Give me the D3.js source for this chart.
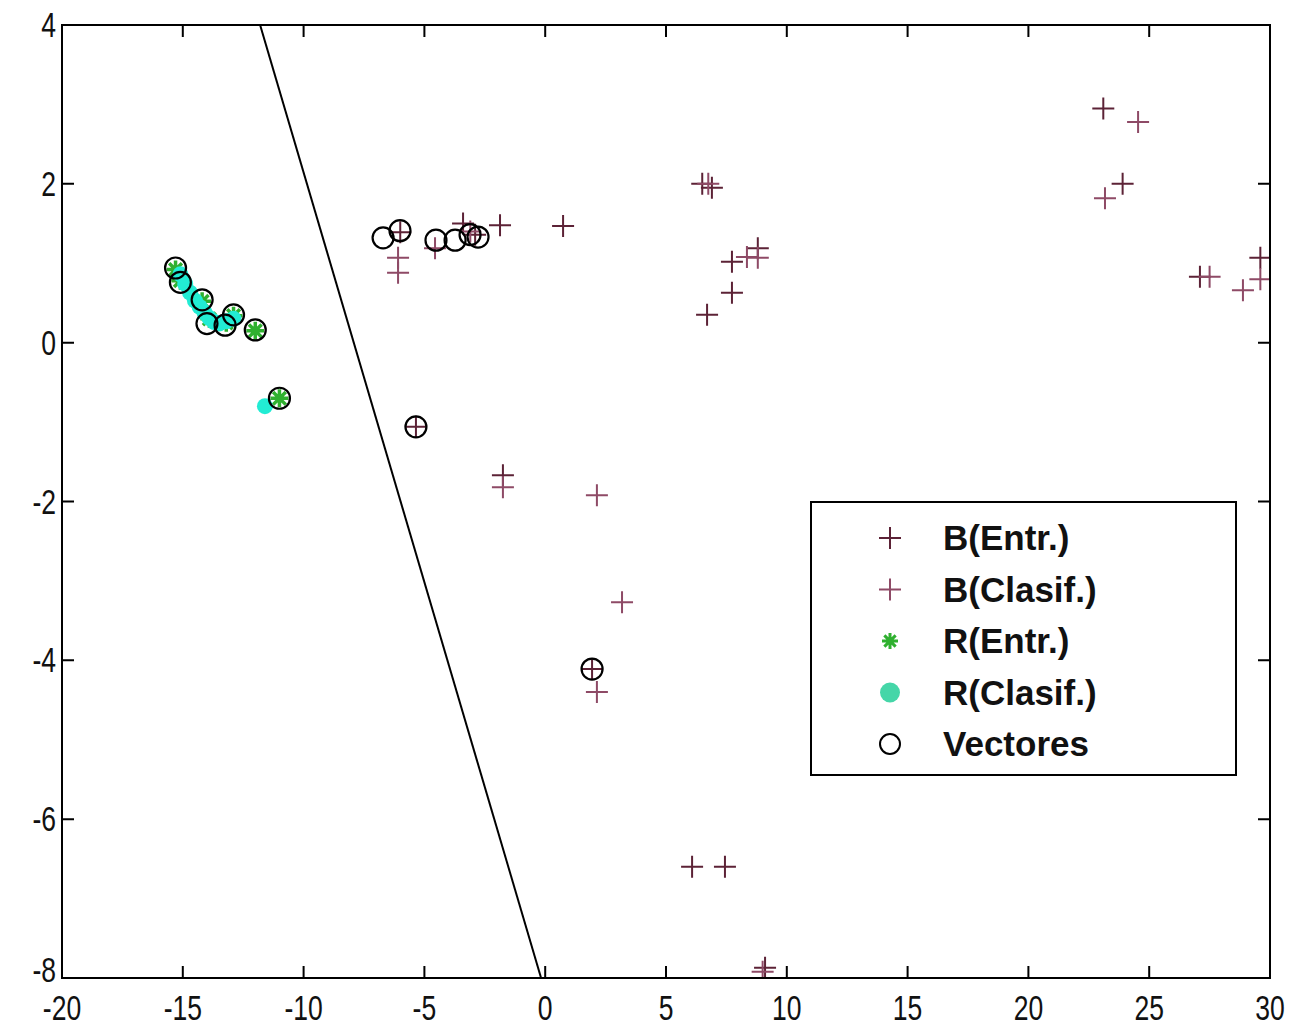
<!DOCTYPE html>
<html>
<head>
<meta charset="utf-8">
<script src="https://cdn.jsdelivr.net/npm/d3@7"></script>
<style>
  html, body { margin: 0; padding: 0; background: #fff; }
  svg { display: block; }
  .tick-label { font-family: "Liberation Sans", Arial, sans-serif; font-size: 34px; fill: #111; }
  .legend-label { font-family: "Liberation Sans", Arial, sans-serif; font-weight: bold; font-size: 35px; fill: #111; }
</style>
</head>
<body>
<svg id="chart" width="1303" height="1028"></svg>
<script>
// Axis ticks
const xTicks = [-20, -15, -10, -5, 0, 5, 10, 15, 20, 25, 30];
const yTicks = [4, 2, 0, -2, -4, -6, -8];

// B training points
const bEntrX = [23.1, 23.9, 27.1, 29.6, 6.5, 6.9, 0.74, 7.73, 8.8, 7.73, 6.7, -1.87, -6.0, -1.75, 9.1, 6.08, 7.44, -5.35, 1.94, -3.4, -2.9];
const bEntrY = [2.95, 2.0, 0.83, 1.07, 2.0, 1.95, 1.47, 1.02, 1.19, 0.63, 0.35, 1.48, 1.39, -1.67, -7.87, -6.6, -6.6, -1.06, -4.11, 1.5, 1.36];

// B classified points
const bClasX = [24.54, 23.17, 27.5, 29.6, 28.88, 8.35, 8.8, -6.09, -6.09, -4.56, -1.75, 2.14, 3.18, 2.14, 9.0, 6.75, -3.1];
const bClasY = [2.78, 1.82, 0.83, 0.80, 0.66, 1.08, 1.07, 1.07, 0.88, 1.19, -1.82, -1.92, -3.27, -4.40, -7.92, 2.0, 1.4];

// R training points
const rEntrX = [-15.3, -15.1, -14.2, -13.9, -13.2, -12.9, -12.0, -11.0];
const rEntrY = [0.92, 0.78, 0.52, 0.30, 0.25, 0.34, 0.15, -0.70];

// R classified points
const rClasX = [-15.1, -14.9, -14.7, -14.5, -14.3, -14.1, -13.9, -13.7, -13.5, -13.2, -12.9, -11.6];
const rClasY = [0.86, 0.74, 0.63, 0.53, 0.45, 0.38, 0.31, 0.26, 0.24, 0.27, 0.30, -0.80];

// Support vectors
const vecX = [-6.71, -6.01, -4.52, -3.73, -3.11, -2.78, -5.35, 1.94, -15.3, -15.1, -14.2, -14.0, -13.25, -12.9, -12.0, -11.0];
const vecY = [1.32, 1.41, 1.29, 1.29, 1.36, 1.33, -1.06, -4.11, 0.94, 0.76, 0.54, 0.24, 0.22, 0.35, 0.16, -0.70];

// Separating line
const lineX = [-11.8, -0.17];
const lineY = [4, -8];

const legendNames = ["B(Entr.)", "B(Clasif.)", "R(Entr.)", "R(Clasif.)", "Vectores"];

const colBEntr = "#5c2236";
const colBClas = "#8e4a66";
const colREntr = "#2fb02f";
const colRClas = "#22ecd4";

const svg = d3.select("#chart");
const L = 62, R = 1270, T = 25, B = 978;
const x = d3.scaleLinear().domain([-20, 30]).range([L, R]);
const y = d3.scaleLinear().domain([-8, 4]).range([B, T]);

const zip = (xs, ys) => xs.map((v, i) => [v, ys[i]]);

const plot = svg.append("g");
plot.append("defs").append("clipPath").attr("id", "clip")
  .append("rect").attr("x", L).attr("y", T).attr("width", R - L).attr("height", B - T);

const marks = plot.append("g").attr("clip-path", "url(#clip)");

// separating line
marks.append("line")
  .attr("x1", x(lineX[0])).attr("y1", y(lineY[0]))
  .attr("x2", x(lineX[1])).attr("y2", y(lineY[1]))
  .attr("stroke", "#000").attr("stroke-width", 2);

function plus(g, pts, color, s) {
  g.selectAll(null).data(pts).enter().append("path")
    .attr("d", d => `M${x(d[0]) - s},${y(d[1])}H${x(d[0]) + s}M${x(d[0])},${y(d[1]) - s}V${y(d[1]) + s}`)
    .attr("stroke", color).attr("stroke-width", 2).attr("fill", "none");
}
function star(g, pts, color, s) {
  const d2 = s * 0.707;
  g.selectAll(null).data(pts).enter().append("path")
    .attr("d", d => {
      const cx = x(d[0]), cy = y(d[1]);
      return `M${cx - s},${cy}H${cx + s}M${cx},${cy - s}V${cy + s}` +
        `M${cx - d2},${cy - d2}L${cx + d2},${cy + d2}M${cx - d2},${cy + d2}L${cx + d2},${cy - d2}`;
    })
    .attr("stroke", color).attr("stroke-width", 3.5).attr("fill", "none");
}
function dots(g, pts, color, r) {
  g.selectAll(null).data(pts).enter().append("circle")
    .attr("cx", d => x(d[0])).attr("cy", d => y(d[1])).attr("r", r)
    .attr("fill", color).attr("stroke", "none");
}
function rings(g, pts, r) {
  g.selectAll(null).data(pts).enter().append("circle")
    .attr("cx", d => x(d[0])).attr("cy", d => y(d[1])).attr("r", r)
    .attr("fill", "none").attr("stroke", "#000").attr("stroke-width", 2.2);
}

plus(marks, zip(bEntrX, bEntrY), colBEntr, 11);
plus(marks, zip(bClasX, bClasY), colBClas, 11);
star(marks, zip(rEntrX, rEntrY), colREntr, 9);
dots(marks, zip(rClasX, rClasY), colRClas, 8);
rings(marks, zip(vecX, vecY), 10.5);

// axes box with inward ticks on all sides
const tickLen = 12;
const axes = plot.append("g");
axes.append("rect").attr("x", L).attr("y", T).attr("width", R - L).attr("height", B - T)
  .attr("fill", "none").attr("stroke", "#000").attr("stroke-width", 2);

axes.selectAll(null).data(xTicks).enter().append("path")
  .attr("d", d => `M${x(d)},${B}v${-tickLen}M${x(d)},${T}v${tickLen}`)
  .attr("stroke", "#000").attr("stroke-width", 2);
axes.selectAll(null).data(yTicks).enter().append("path")
  .attr("d", d => `M${L},${y(d)}h${tickLen}M${R},${y(d)}h${-tickLen}`)
  .attr("stroke", "#000").attr("stroke-width", 2);

// condensed tick labels
axes.selectAll(null).data(xTicks).enter().append("text")
  .attr("class", "tick-label")
  .attr("transform", d => `translate(${x(d)},${B + 42}) scale(0.78,1.05)`)
  .attr("text-anchor", "middle")
  .text(d => d);
axes.selectAll(null).data(yTicks).enter().append("text")
  .attr("class", "tick-label")
  .attr("transform", d => `translate(${L - 6},${y(d) + (d === -8 ? 4 : 12)}) scale(0.78,1.05)`)
  .attr("text-anchor", "end")
  .text(d => d);

// legend
const lg = svg.append("g");
lg.append("rect").attr("x", 811).attr("y", 502).attr("width", 425).attr("height", 273)
  .attr("fill", "#fff").attr("stroke", "#000").attr("stroke-width", 2);
const rowY = i => 538 + i * 51.5;
const mx = 890;
legendNames.forEach((name, i) => {
  const cy = rowY(i);
  const g = lg.append("g");
  if (i === 0 || i === 1) {
    const c = i === 0 ? colBEntr : colBClas;
    g.append("path").attr("d", `M${mx - 11},${cy}H${mx + 11}M${mx},${cy - 11}V${cy + 11}`)
      .attr("stroke", c).attr("stroke-width", 2);
  } else if (i === 2) {
    const s = 8, d2 = s * 0.707;
    g.append("path").attr("d", `M${mx - s},${cy}H${mx + s}M${mx},${cy - s}V${cy + s}M${mx - d2},${cy - d2}L${mx + d2},${cy + d2}M${mx - d2},${cy + d2}L${mx + d2},${cy - d2}`)
      .attr("stroke", colREntr).attr("stroke-width", 3);
  } else if (i === 3) {
    g.append("circle").attr("cx", mx).attr("cy", cy).attr("r", 10).attr("fill", "#45d6a8");
  } else {
    g.append("circle").attr("cx", mx).attr("cy", cy).attr("r", 10)
      .attr("fill", "none").attr("stroke", "#000").attr("stroke-width", 2);
  }
  g.append("text").attr("class", "legend-label")
    .attr("x", 943).attr("y", cy + 12).text(name);
});
</script>
</body>
</html>
